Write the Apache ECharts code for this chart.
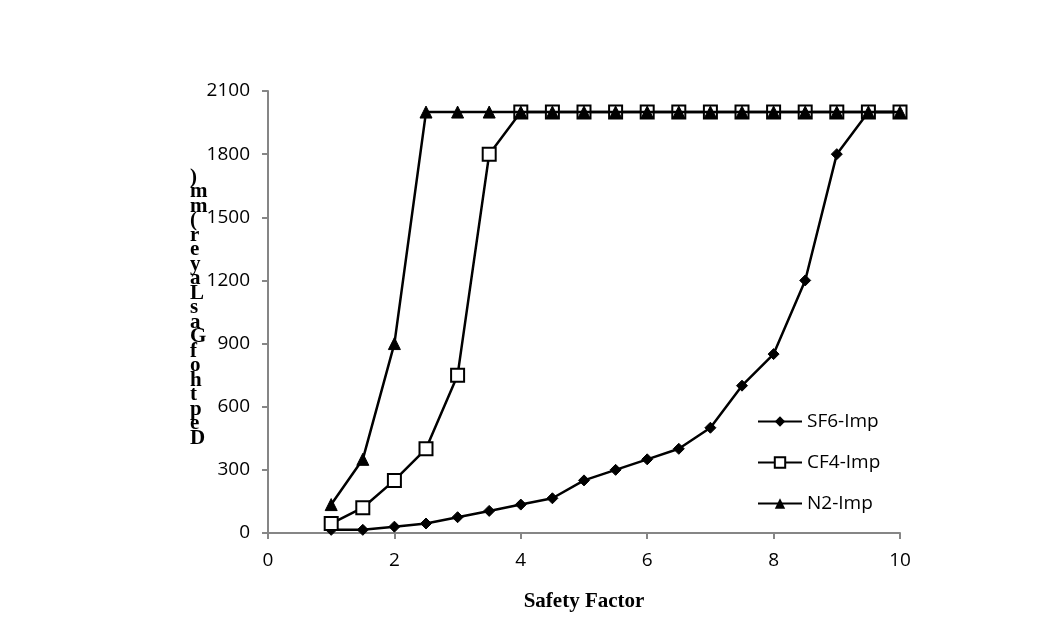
<!DOCTYPE html>
<html><head><meta charset="utf-8">
<script src="https://cdn.jsdelivr.net/npm/echarts@6/dist/echarts.min.js"></script>
<style>html,body{margin:0;padding:0;background:#fff}#c{width:1053px;height:637px}</style>
</head><body><div id="c"></div>
<script>
const xValues = [1,1.5,2,2.5,3,3.5,4,4.5,5,5.5,6,6.5,7,7.5,8,8.5,9,9.5,10];
const sf6 = [15,15,30,45,75,105,135,165,250,300,350,400,500,700,850,1200,1800,2000,2000];
const cf4 = [45,120,250,400,750,1800,2000,2000,2000,2000,2000,2000,2000,2000,2000,2000,2000,2000,2000];
const n2  = [135,350,900,2000,2000,2000,2000,2000,2000,2000,2000,2000,2000,2000,2000,2000,2000,2000,2000];
const seriesNames = ['SF6-Imp','CF4-Imp','N2-Imp'];
const yTitle = 'Depth of Gas Layer (mm)';
const xTitle = 'Safety Factor';

const pair = arr => xValues.map((x,i)=>[x,arr[i]]);
const chart = echarts.init(document.getElementById('c'));
const tickFont = {fontFamily:'Open Sans, Liberation Sans, Arial', fontSize:19, color:'#000'};
const stacked = yTitle.replace(/ /g,'').split('').reverse().join('\n');
chart.setOption({
  animation:false,
  backgroundColor:'#fff',
  grid:{left:268,right:153,top:91,bottom:104,containLabel:false},
  xAxis:{type:'value',min:0,max:10,interval:2,
    axisLine:{lineStyle:{color:'#868686',width:2}},
    axisTick:{show:true,length:6,lineStyle:{color:'#868686',width:2}},
    axisLabel:Object.assign({margin:18},tickFont),
    splitLine:{show:false},
    name:xTitle,nameLocation:'middle',nameGap:58,
    nameTextStyle:{fontFamily:'Liberation Serif, Times New Roman',fontWeight:'bold',fontSize:21,color:'#000'}
  },
  yAxis:{type:'value',min:0,max:2100,interval:300,
    axisLine:{show:true,lineStyle:{color:'#868686',width:2}},
    axisTick:{show:true,length:6,lineStyle:{color:'#868686',width:2}},
    axisLabel:Object.assign({margin:18,formatter:v=>String(v)},tickFont),
    splitLine:{show:false}
  },
  legend:{orient:'vertical',left:752,top:407,itemWidth:44,itemHeight:13,itemGap:22,
    textStyle:{fontFamily:'Open Sans, Liberation Sans, Arial',fontSize:19,color:'#000'},
    data:seriesNames},
  graphic:[{type:'text',left:190,top:167,
    style:{text:stacked,font:'bold 21px "Liberation Serif", "Times New Roman"',lineHeight:14.5,fill:'#000',align:'center'}}],
  series:[
    {name:seriesNames[0],type:'line',data:pair(sf6),symbol:'diamond',symbolSize:11,
     lineStyle:{color:'#000',width:2.5},itemStyle:{color:'#000',borderColor:'#000'},z:2},
    {name:seriesNames[1],type:'line',data:pair(cf4),symbol:'rect',symbolSize:13,
     lineStyle:{color:'#000',width:2.5},itemStyle:{color:'#fff',borderColor:'#000',borderWidth:2},z:3},
    {name:seriesNames[2],type:'line',data:pair(n2),symbol:'triangle',symbolSize:12,
     lineStyle:{color:'#000',width:2.5},itemStyle:{color:'#000',borderColor:'#000'},z:4}
  ]
});
</script></body></html>
